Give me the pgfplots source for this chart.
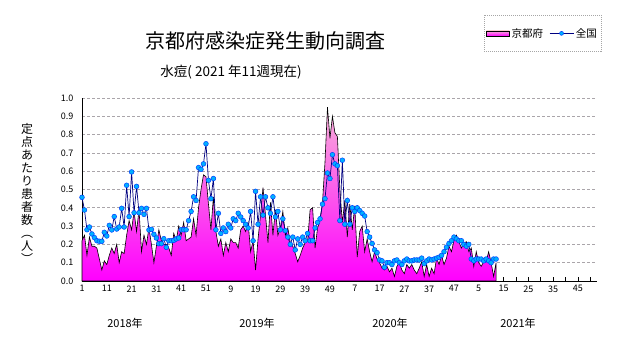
\documentclass[border=0pt]{standalone}
\usepackage{fontspec}
\setmainfont{Noto Sans CJK JP}
\usepackage{pgfplots}
\usepackage{pgfplotstable}
\pgfplotsset{compat=1.18}
\definecolor{navyline}{RGB}{0,0,128}
\definecolor{mkfill}{RGB}{0,176,255}
\definecolor{mkdraw}{RGB}{0,64,255}
\definecolor{pinktop}{RGB}{248,176,216}
\definecolor{magbot}{RGB}{255,0,255}
\definecolor{gridc}{RGB}{170,165,170}

\pgfplotstableread{
i K N
1 0.22 0.457
2 0.25 0.388
3 0.14 0.28
4 0.24 0.295
5 0.19 0.257
6 0.19 0.237
7 0.18 0.22
8 0.12 0.217
9 0.06 0.217
10 0.11 0.266
11 0.09 0.246
12 0.14 0.304
13 0.18 0.279
14 0.15 0.352
15 0.20 0.284
16 0.10 0.295
17 0.16 0.397
18 0.15 0.295
19 0.25 0.523
20 0.33 0.352
21 0.28 0.596
22 0.38 0.373
23 0.27 0.517
24 0.39 0.373
25 0.16 0.397
26 0.25 0.364
27 0.20 0.397
28 0.29 0.279
29 0.20 0.282
30 0.10 0.255
31 0.19 0.235
32 0.28 0.204
33 0.22 0.204
34 0.20 0.231
35 0.20 0.184
36 0.18 0.22
37 0.14 0.22
38 0.26 0.222
39 0.22 0.23
40 0.30 0.235
41 0.25 0.28
42 0.32 0.28
43 0.22 0.28
44 0.23 0.33
45 0.24 0.38
46 0.34 0.46
47 0.25 0.44
48 0.40 0.62
49 0.50 0.61
50 0.58 0.64
51 0.57 0.75
52 0.42 0.55
53 0.28 0.45
54 0.46 0.56
55 0.27 0.28
56 0.19 0.37
57 0.23 0.26
58 0.14 0.29
59 0.21 0.27
60 0.16 0.31
61 0.23 0.29
62 0.21 0.34
63 0.21 0.33
64 0.18 0.37
65 0.28 0.35
66 0.30 0.33
67 0.27 0.31
68 0.32 0.29
69 0.16 0.38
70 0.22 0.22
71 0.06 0.49
72 0.23 0.31
73 0.36 0.46
74 0.51 0.36
75 0.36 0.46
76 0.21 0.40
77 0.43 0.37
78 0.25 0.46
79 0.39 0.35
80 0.25 0.38
81 0.29 0.28
82 0.38 0.34
83 0.25 0.275
84 0.29 0.24
85 0.21 0.20
86 0.19 0.24
87 0.15 0.17
88 0.105 0.23
89 0.14 0.20
90 0.18 0.24
91 0.21 0.22
92 0.22 0.26
93 0.39 0.22
94 0.40 0.22
95 0.18 0.29
96 0.29 0.32
97 0.33 0.34
98 0.43 0.42
99 0.65 0.45
100 0.95 0.59
101 0.78 0.56
102 0.90 0.69
103 0.81 0.64
104 0.79 0.63
105 0.50 0.33
106 0.32 0.66
107 0.44 0.31
108 0.24 0.44
109 0.42 0.31
110 0.28 0.40
111 0.41 0.38
112 0.13 0.40
113 0.27 0.385
114 0.30 0.37
115 0.16 0.355
116 0.23 0.27
117 0.16 0.24
118 0.105 0.205
119 0.16 0.17
120 0.12 0.155
121 0.10 0.115
122 0.07 0.11
123 0.06 0.075
124 0.08 0.10
125 0.05 0.10
126 0.07 0.09
127 0.025 0.11
128 0.08 0.115
129 0.10 0.10
130 0.06 0.09
131 0.04 0.11
132 0.09 0.12
133 0.07 0.11
134 0.09 0.11
135 0.06 0.115
136 0.04 0.115
137 0.07 0.115
138 0.105 0.125
139 0.025 0.095
140 0.09 0.11
141 0.025 0.12
142 0.07 0.115
143 0.04 0.12
144 0.125 0.125
145 0.09 0.13
146 0.14 0.14
147 0.09 0.16
148 0.125 0.185
149 0.19 0.205
150 0.16 0.22
151 0.22 0.24
152 0.25 0.23
153 0.215 0.22
154 0.18 0.22
155 0.205 0.20
156 0.215 0.19
157 0.16 0.20
158 0.18 0.12
159 0.08 0.11
160 0.16 0.12
161 0.10 0.12
162 0.08 0.12
163 0.105 0.11
164 0.105 0.12
165 0.16 0.11
166 0.10 0.10
167 0.025 0.12
168 0.10 0.12
}\weekly

\begin{document}
\begin{tikzpicture}[x=1pt,y=1pt]
\path (0pt,0pt) rectangle (631pt,347pt);
\begin{axis}[
  at={(82pt,66pt)}, anchor=south west,
  scale only axis, width=515pt, height=183pt,
  xmin=1, xmax=208.7, ymin=0, ymax=1,
  clip=false,
  axis x line=bottom, axis y line=left,
  axis line style={-, black, line width=0.8pt},
  tick align=inside,
  xtick={1,11,...,201},
  xticklabels={1,11,21,31,41,51,9,19,29,39,49,7,17,27,37,47,5,15,25,35,45},
  minor xtick={6,16,...,206},
  x tick style={black, line width=0.6pt},
  major tick length=4pt, minor tick length=4pt,
  ytick={0,0.1,0.2,0.3,0.4,0.5,0.6,0.7,0.8,0.9,1.0},
  y tick style={draw=none},
  ymajorgrids,
  major grid style={gridc, dash pattern=on 3pt off 2pt, line width=0.6pt},
  yticklabel style={/pgf/number format/fixed, /pgf/number format/fixed zerofill, /pgf/number format/precision=1, xshift=-5pt},
  /pgf/number format/assume math mode=true,
  tick label style={font=\fontsize{9}{10}\selectfont},
  xticklabel style={yshift=-1pt},
  legend style={at={(0.7806,1.4536)}, anchor=north west, draw=gray!70, dash pattern=on 1pt off 1pt,
    font=\fontsize{10.5}{12}\selectfont, inner xsep=2pt, inner ysep=11pt,
    /tikz/every even column/.append style={column sep=4pt}},
  legend columns=2,
]
\addplot[draw=black, line width=0.6pt, top color=pinktop, bottom color=magbot,
  legend image code/.code={\draw[solid, black, line width=0.5pt, top color=pinktop, bottom color=magbot] (0pt,-2.5pt) rectangle (23pt,2.5pt);}]
  table[x=i, y=K] {\weekly} \closedcycle;
\addlegendentry{京都府}
\addplot[color=navyline, solid, line width=0.7pt, mark=*, mark size=2.4pt,
  mark options={solid, fill=mkfill, draw=mkdraw, line width=0.5pt},
  legend image code/.code={\draw[solid, navyline, line width=0.7pt] (0pt,0pt) -- (24pt,0pt); \draw[solid, fill=mkfill, draw=mkdraw, line width=0.5pt] (12pt,0pt) circle (2pt);}]
  table[x=i, y=N] {\weekly};
\addlegendentry{全国}
\end{axis}
\node[font=\fontsize{20}{24}\selectfont] at (265pt,306pt) {京都府感染症発生動向調査};
\node[font=\fontsize{13.5}{16}\selectfont] at (231pt,275pt) {水痘( 2021 年11週現在)};
\node[font=\fontsize{12}{13}\selectfont, align=center] at (27pt,154pt) {定\\点\\あ\\た\\り\\患\\者\\数\\︵\\人\\︶};
\node[font=\fontsize{11}{12}\selectfont] at (125pt,24pt) {2018年};
\node[font=\fontsize{11}{12}\selectfont] at (257pt,24pt) {2019年};
\node[font=\fontsize{11}{12}\selectfont] at (390pt,24pt) {2020年};
\node[font=\fontsize{11}{12}\selectfont] at (518pt,24pt) {2021年};
\end{tikzpicture}
\end{document}
